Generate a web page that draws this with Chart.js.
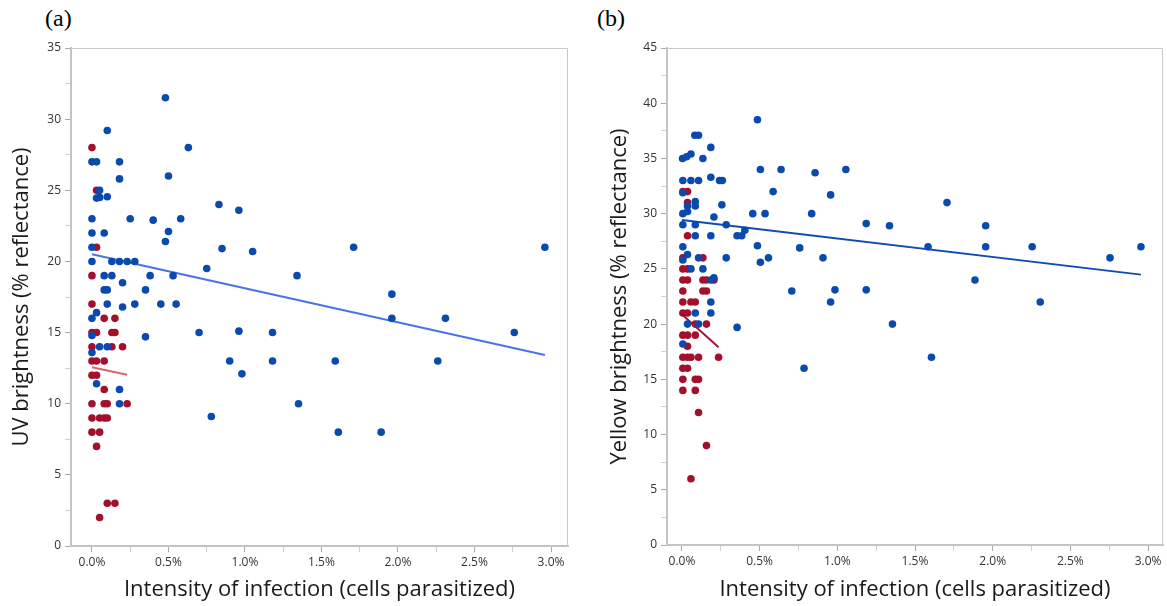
<!DOCTYPE html>
<html>
<head>
<meta charset="utf-8">
<script src="https://cdn.jsdelivr.net/npm/chart.js@4.4.0/dist/chart.umd.min.js"></script>
<style>
  html, body { margin: 0; padding: 0; background: #fff; }
  body { width: 1167px; height: 606px; position: relative; overflow: hidden; }
  .panel { position: absolute; top: 0; height: 606px; }
  .tag { position: absolute; top: 4px; font-family: "Liberation Serif", "Times New Roman", serif; font-size: 24px; color: #000; line-height: 28px; }
</style>
</head>
<body>
<div class="tag" style="left:45px">(a)</div>
<div class="tag" style="left:597px">(b)</div>
<div class="panel" style="left:0;width:583px"><canvas id="uvChart" width="583" height="606"></canvas></div>
<div class="panel" style="left:583px;width:584px"><canvas id="yellowChart" width="584" height="606"></canvas></div>

<script>
// values: [infection %, brightness %]

var xTickValues = [0, 0.25, 0.5, 0.75, 1, 1.25, 1.5, 1.75, 2, 2.25, 2.5, 2.75, 3];
var uvTickValues = [0, 2.5, 5, 7.5, 10, 12.5, 15, 17.5, 20, 22.5, 25, 27.5, 30, 32.5, 35];
var yellowTickValues = [0, 2.5, 5, 7.5, 10, 12.5, 15, 17.5, 20, 22.5, 25, 27.5, 30, 32.5, 35, 37.5, 40, 42.5, 45];

var uvBlue = [
  [0.48, 31.5], [0.10, 29.2], [0.63, 28.0], [0.00, 27.0], [0.03, 27.0], [0.18, 27.0],
  [0.18, 25.8], [0.50, 26.0], [0.05, 25.0], [0.03, 24.45], [0.05, 24.5], [0.10, 24.55],
  [0.83, 24.0], [0.96, 23.6], [0.00, 23.0], [0.25, 23.0], [0.40, 22.9], [0.58, 23.0],
  [0.00, 22.0], [0.08, 22.0], [0.50, 22.1], [0.48, 21.4], [0.00, 21.0], [0.85, 20.9],
  [1.05, 20.7], [0.00, 20.0], [0.13, 20.0], [0.18, 20.0], [0.23, 20.0], [0.28, 20.0],
  [0.75, 19.5], [0.08, 19.0], [0.13, 19.0], [0.38, 19.0], [0.53, 19.0], [0.20, 18.5],
  [0.08, 18.0], [0.10, 18.0], [0.35, 18.0], [0.10, 17.0], [0.20, 16.8], [0.28, 17.0],
  [0.45, 17.0], [0.55, 17.0], [0.00, 16.0], [0.03, 16.4], [0.00, 14.8], [0.35, 14.7],
  [0.70, 15.0], [0.96, 15.1], [0.05, 14.0], [0.10, 14.0], [0.00, 13.6], [0.90, 13.0],
  [0.98, 12.1], [0.03, 11.4], [0.18, 11.0], [0.18, 10.0], [0.78, 9.1], [1.71, 21.0],
  [2.96, 21.0], [1.34, 19.0], [1.96, 17.7], [1.96, 16.0], [2.31, 16.0], [2.76, 15.0],
  [1.18, 15.0], [1.18, 13.0], [1.59, 13.0], [2.26, 13.0], [1.35, 10.0], [1.61, 8.0],
  [1.89, 8.0]
];

var uvRed = [
  [0.00, 28.0], [0.03, 25.0], [0.03, 21.0], [0.00, 19.0], [0.00, 17.0], [0.08, 16.0],
  [0.15, 16.0], [0.00, 15.0], [0.03, 15.0], [0.13, 15.0], [0.15, 15.0], [0.00, 14.0],
  [0.13, 14.0], [0.20, 14.0], [0.00, 13.0], [0.03, 13.0], [0.08, 13.0], [0.00, 12.0],
  [0.03, 12.0], [0.08, 11.0], [0.00, 10.0], [0.08, 10.0], [0.10, 10.0], [0.23, 10.0],
  [0.00, 9.0], [0.05, 9.0], [0.08, 9.0], [0.10, 9.0], [0.00, 8.0], [0.05, 8.0],
  [0.03, 7.0], [0.10, 3.0], [0.15, 3.0], [0.05, 2.0]
];

var uvBlueFit = [[0, 20.5], [2.96, 13.43]];
var uvRedFit = [[0, 12.56], [0.23, 12.04]];

var yellowBlue = [
  [0.486, 38.5], [0.083, 37.1], [0.107, 37.1], [0.186, 36.0], [0.004, 35.0], [0.03, 35.15],
  [0.058, 35.4], [0.135, 35.0], [0.505, 34.0], [0.638, 34.0], [0.857, 33.7], [0.957, 31.7],
  [0.006, 33.0], [0.058, 33.0], [0.107, 33.0], [0.186, 33.3], [0.242, 33.0], [0.26, 33.0],
  [0.006, 31.9], [0.587, 32.0], [0.036, 30.7], [0.086, 31.1], [0.086, 30.7], [0.257, 30.8],
  [0.006, 30.0], [0.036, 30.2], [0.206, 29.7], [0.456, 30.0], [0.535, 30.0], [0.835, 30.0],
  [0.006, 29.0], [0.086, 29.0], [0.285, 29.0], [0.086, 28.0], [0.186, 28.0], [0.355, 28.0],
  [0.385, 28.0], [0.405, 28.5], [0.006, 27.0], [0.486, 27.1], [0.758, 26.9], [0.908, 26.0],
  [0.006, 25.8], [0.036, 26.3], [0.107, 26.0], [0.285, 26.0], [0.557, 26.0], [0.505, 25.6],
  [0.058, 25.0], [0.135, 25.0], [0.186, 24.0], [0.206, 24.2], [0.707, 23.0], [0.985, 23.1],
  [0.186, 22.0], [0.957, 22.0], [0.086, 21.0], [0.186, 21.0], [0.036, 20.0], [0.107, 20.0],
  [0.355, 19.7], [0.006, 18.2], [0.786, 16.0], [1.055, 34.0], [1.706, 31.0], [1.186, 29.1],
  [1.336, 28.9], [1.955, 28.9], [1.584, 27.0], [1.955, 27.0], [2.254, 27.0], [2.954, 27.0],
  [2.755, 26.0], [1.886, 24.0], [1.186, 23.1], [2.306, 22.0], [1.355, 20.0], [1.606, 17.0]
];

var yellowRed = [
  [0.006, 32.0], [0.036, 32.0], [0.036, 31.0], [0.036, 28.0], [0.006, 26.0], [0.135, 26.0],
  [0.006, 25.0], [0.036, 25.0], [0.006, 24.0], [0.036, 24.0], [0.135, 24.0], [0.158, 24.0],
  [0.206, 24.0], [0.006, 23.0], [0.135, 23.0], [0.158, 23.0], [0.006, 22.0], [0.058, 22.0],
  [0.086, 22.0], [0.006, 21.0], [0.036, 21.0], [0.086, 20.0], [0.158, 20.0], [0.006, 19.0],
  [0.036, 19.0], [0.086, 19.0], [0.036, 18.0], [0.006, 17.0], [0.036, 17.0], [0.058, 17.0],
  [0.107, 17.0], [0.236, 17.0], [0.006, 16.0], [0.036, 16.0], [0.006, 15.0], [0.086, 15.0],
  [0.107, 15.0], [0.006, 14.0], [0.086, 14.0], [0.107, 12.0], [0.158, 9.0], [0.058, 6.0]
];

var yellowBlueFit = [[0, 29.43], [2.954, 24.48]];
var yellowRedFit = [[0.006, 20.8], [0.236, 17.9]];

var FONT = '"Open Sans", "Noto Sans", sans-serif';
var BLUE = '#0a4aae';
var RED = '#a3102c';

function toXY(pairs) {
  return pairs.map(function (p) { return { x: p[0], y: p[1] }; });
}

function isMultiple(v, step) {
  return Math.abs(v / step - Math.round(v / step)) < 1e-6;
}

// grey box round the plot area (top and right sides; axes draw the others)
var framePlugin = {
  id: 'frame',
  beforeDatasetsDraw: function (chart) {
    var a = chart.chartArea, ctx = chart.ctx;
    ctx.save();
    ctx.strokeStyle = '#c8c8c8';
    ctx.lineWidth = 1;
    ctx.beginPath();
    ctx.moveTo(a.left, a.top + 0.5);
    ctx.lineTo(a.right - 0.5, a.top + 0.5);
    ctx.lineTo(a.right - 0.5, a.bottom);
    ctx.stroke();
    ctx.restore();
  }
};

function makeChart(id, c) {
  return new Chart(document.getElementById(id), {
    type: 'scatter',
    data: {
      datasets: [
        { type: 'line', data: toXY(c.blueFit), borderColor: c.blueFitColor, borderWidth: 2,
          pointRadius: 0, fill: false, order: 3 },
        { type: 'line', data: toXY(c.redFit), borderColor: c.redFitColor, borderWidth: 2,
          pointRadius: 0, fill: false, order: 3 },
        { data: toXY(c.red), backgroundColor: RED, borderWidth: 0, pointRadius: 3.8, order: 2 },
        { data: toXY(c.blue), backgroundColor: BLUE, borderWidth: 0, pointRadius: 3.8, order: 1 }
      ]
    },
    options: {
      responsive: false,
      animation: false,
      events: [],
      layout: { padding: { left: 0, top: 48, right: c.padRight, bottom: 0 } },
      plugins: { legend: { display: false }, tooltip: { enabled: false } },
      scales: {
        x: {
          type: 'linear',
          min: c.xMin,
          max: c.xMax,
          afterBuildTicks: function (s) { s.ticks = xTickValues.map(function (v) { return { value: v }; }); },
          afterFit: function (s) { s.height = c.xAxisHeight; },
          ticks: {
            autoSkip: false, maxRotation: 0, padding: 3, color: '#333', font: { family: FONT, size: 12 },
            callback: function (v) { return isMultiple(v, 0.5) ? v.toFixed(1) + '%' : ''; }
          },
          grid: {
            drawOnChartArea: false, tickLength: 6,
            tickColor: function (ctx) { return ctx.tick && isMultiple(ctx.tick.value, 0.5) ? '#a8a8a8' : '#d0d0d0'; }
          },
          border: { color: '#c4c4c4', width: 2 },
          title: {
            display: true, text: 'Intensity of infection (cells parasitized)', color: '#1a1a1a',
            font: { family: FONT, size: 22 }, padding: { top: 0, bottom: 3 }
          }
        },
        y: {
          min: 0,
          max: c.yMax,
          afterBuildTicks: function (s) { s.ticks = c.yTicks.map(function (v) { return { value: v }; }); },
          afterFit: function (s) { s.width = c.yAxisWidth; },
          ticks: {
            autoSkip: false, padding: 4, color: '#333', font: { family: FONT, size: 12 },
            callback: function (v) { return isMultiple(v, 5) ? v : ''; }
          },
          grid: {
            drawOnChartArea: false, tickLength: 6,
            tickColor: function (ctx) { return ctx.tick && isMultiple(ctx.tick.value, 5) ? '#a8a8a8' : '#d0d0d0'; }
          },
          border: { color: '#c4c4c4', width: 2 },
          title: {
            display: true, text: c.yTitle, color: '#1a1a1a',
            font: { family: FONT, size: 22 }, padding: { top: c.yTitlePad, bottom: 0 }
          }
        }
      }
    },
    plugins: [framePlugin]
  });
}

makeChart('uvChart', {
  blue: uvBlue, red: uvRed, blueFit: uvBlueFit, redFit: uvRedFit,
  blueFitColor: '#4a74e6', redFitColor: '#e0606e',
  xMin: -0.137, xMax: 3.111, yMax: 35, yTicks: uvTickValues,
  yAxisWidth: 71, xAxisHeight: 60, padRight: 15, yTitlePad: 9,
  yTitle: 'UV brightness (% reflectance)'
});

makeChart('yellowChart', {
  blue: yellowBlue, red: yellowRed, blueFit: yellowBlueFit, redFit: yellowRedFit,
  blueFitColor: '#0f4cb0', redFitColor: '#a5162f',
  xMin: -0.096, xMax: 3.096, yMax: 45, yTicks: yellowTickValues,
  yAxisWidth: 84, xAxisHeight: 61, padRight: 2, yTitlePad: 24,
  yTitle: 'Yellow brightness (% reflectance)'
});
</script>
</body>
</html>
